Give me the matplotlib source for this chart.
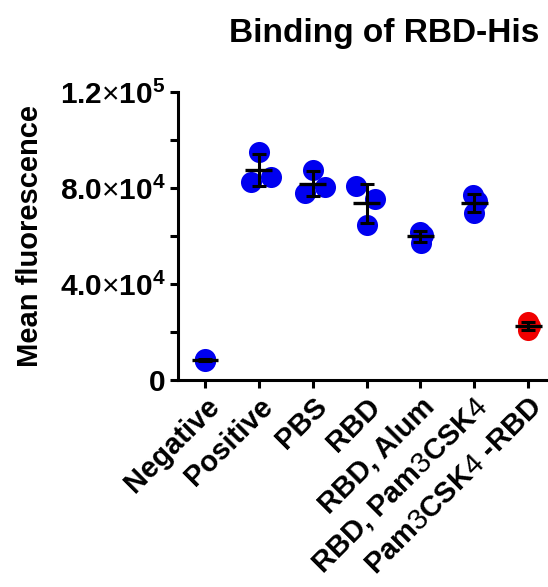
import numpy as np
import matplotlib
matplotlib.use("Agg")
import matplotlib.pyplot as plt

plt.rcParams["font.family"] = ["Liberation Sans", "DejaVu Sans"]
plt.rcParams["mathtext.fontset"] = "custom"
plt.rcParams["mathtext.rm"] = "Liberation Sans"
plt.rcParams["mathtext.bf"] = "Liberation Sans:bold"

# groups and replicate values
groups = ["Negative", "Positive", "PBS", "RBD", "RBD, Alum",
          r"RBD, Pam$\mathrm{3}$CSK$\mathrm{4}$",
          r"Pam$\mathrm{3}$CSK$\mathrm{4}$ -RBD"]
values = [
    [8900, 7800, 8400],
    [95100, 82600, 84700],
    [87500, 77800, 80300],
    [80800, 75300, 64600],
    [61800, 57200, 60400],
    [77100, 74700, 69500],
    [24000, 22500, 21000],
]
x_jitter = [
    [0.0, 0.0, 0.0],
    [0.0, -0.15, 0.22],
    [0.0, -0.15, 0.22],
    [-0.19, 0.15, 0.0],
    [0.0, 0.02, 0.05],
    [-0.03, 0.06, 0.0],
    [0.0, 0.03, 0.0],
]
colors = ["#0000F0"] * 6 + ["#F00000"]
yticks = [0, 40000, 80000, 120000]
ytick_labels = ["0", r"4.0$\times$10$^{\mathbf{4}}$",
                r"8.0$\times$10$^{\mathbf{4}}$", r"1.2$\times$10$^{\mathbf{5}}$"]

fig = plt.figure(figsize=(5.48, 5.87), dpi=100)
ax = fig.add_axes([0.325, 0.3526, 0.671, 0.4907])

for i, (vals, jit, c) in enumerate(zip(values, x_jitter, colors)):
    vals = np.array(vals)
    ax.scatter(i + np.array(jit), vals, s=230, color=c, zorder=2, linewidths=0)
    m = vals.mean()
    sd = vals.std(ddof=1)
    ax.hlines(m, i - 0.25, i + 0.25, color="black", lw=2.4, zorder=3)
    ax.errorbar(i, m, yerr=sd, fmt="none", ecolor="black", elinewidth=2.2,
                capsize=5, capthick=2.2, zorder=3)

ax.set_xlim(-0.5, 6.33)
ax.set_ylim(0, 120000)
ax.set_yticks(yticks)
ax.set_yticklabels(ytick_labels, fontsize=21.5, fontweight="bold")
ax.set_yticks([20000, 60000, 100000], minor=True)
ax.set_xticks(range(len(groups)))
ax.set_xticklabels(groups, rotation=45, ha="right", rotation_mode="anchor",
                   fontsize=21, fontweight="bold")

for s in ["top", "right"]:
    ax.spines[s].set_visible(False)
for s in ["left", "bottom"]:
    ax.spines[s].set_linewidth(2.2)
ax.tick_params(axis="both", which="major", length=6, width=2.2, pad=3)
ax.tick_params(axis="y", which="minor", length=6, width=2.2)

ax.set_ylabel("Mean fluorescence", fontsize=21, fontweight="bold", labelpad=11)
ax.set_title("Binding of RBD-His", fontsize=24, fontweight="bold", pad=36, x=0.56)

fig.savefig("out.png", dpi=100)
